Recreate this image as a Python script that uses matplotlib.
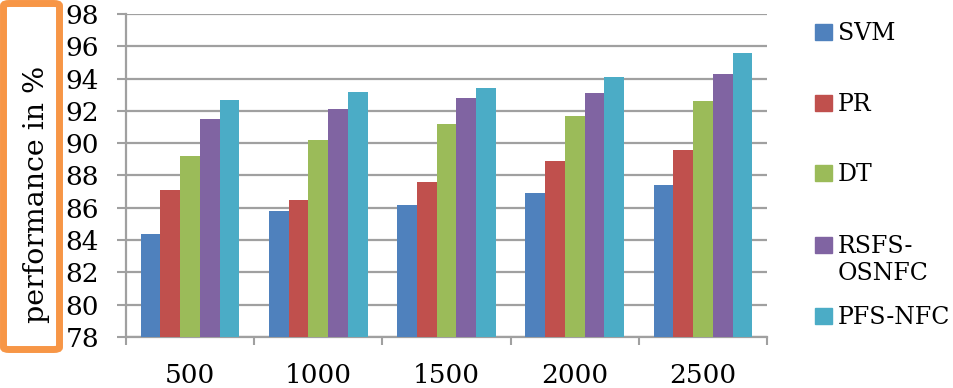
import numpy as np
import matplotlib
matplotlib.use("Agg")
import matplotlib.pyplot as plt
from matplotlib.patches import FancyBboxPatch, Rectangle

sizes = ["500", "1000", "1500", "2000", "2500"]
methods = ["SVM", "PR", "DT", "RSFS-\nOSNFC", "PFS-NFC"]
colors = ["#4F81BD", "#C0504D", "#9BBB59", "#8064A2", "#4BACC6"]
svm = [84.4, 85.8, 86.2, 86.9, 87.4]
pr = [87.1, 86.5, 87.6, 88.9, 89.6]
dt = [89.2, 90.2, 91.2, 91.7, 92.6]
rsfs = [91.5, 92.1, 92.8, 93.1, 94.3]
pfs = [92.7, 93.2, 93.4, 94.1, 95.6]
series = [svm, pr, dt, rsfs, pfs]

plt.rcParams['font.family'] = ['DejaVu Serif']
W, H = 954, 388
fig = plt.figure(figsize=(W / 100, H / 100), dpi=100)
ax = fig.add_axes([126 / W, 1 - 337 / H, (767 - 126) / W, (337 - 14) / H])

x = np.arange(len(sizes))
bw = 0.154
for k, (vals, c) in enumerate(zip(series, colors)):
    ax.bar(x + (k - 2) * bw, vals, bw, color=c, zorder=3)

ax.set_xlim(-0.5, len(sizes) - 0.5)
ax.set_ylim(78, 98)
ax.set_yticks(np.arange(78, 99, 2))
ax.tick_params(axis='y', labelsize=19, length=6.5, width=1.5, color='#A0A0A0', pad=13)
ax.yaxis.grid(True, color='#A0A0A0', linewidth=1.6, zorder=0)
ax.set_axisbelow(True)

ax.set_xticks(np.arange(len(sizes) + 1) - 0.5)
ax.set_xticklabels([])
ax.set_xticks(x, minor=True)
ax.set_xticklabels(sizes, minor=True, fontsize=19)
ax.tick_params(axis='x', which='major', length=6, width=1.5, color='#A0A0A0')
ax.tick_params(axis='x', which='minor', length=0, pad=19)

for s in ['top', 'right']:
    ax.spines[s].set_visible(False)
for s in ['left', 'bottom']:
    ax.spines[s].set_color('#A0A0A0')
    ax.spines[s].set_linewidth(1.6)

# y label in orange rounded box
box = FancyBboxPatch((3.5 / W, 1 - 349.5 / H), 56 / W, 346 / H,
                     boxstyle="round,pad=0,rounding_size=0.006",
                     transform=fig.transFigure, facecolor='white',
                     edgecolor='#F79646', linewidth=5)
fig.patches.append(box)
fig.text(37 / W, 1 - 194 / H, "performance in %", rotation=90,
         ha='center', va='center', fontsize=20.5)

# legend
ys = [32, 103, 173, 245, 316]
for name, c, yy in zip(methods, colors, ys):
    fig.patches.append(Rectangle((815 / W, 1 - (yy + 8) / H), 17 / W, 16 / H,
                                 transform=fig.transFigure, color=c))
    fig.text(838 / W, 1 - (yy - 10) / H, name, ha='left', va='top',
             fontsize=17, linespacing=1.2)

fig.savefig("out.png", dpi=100)
